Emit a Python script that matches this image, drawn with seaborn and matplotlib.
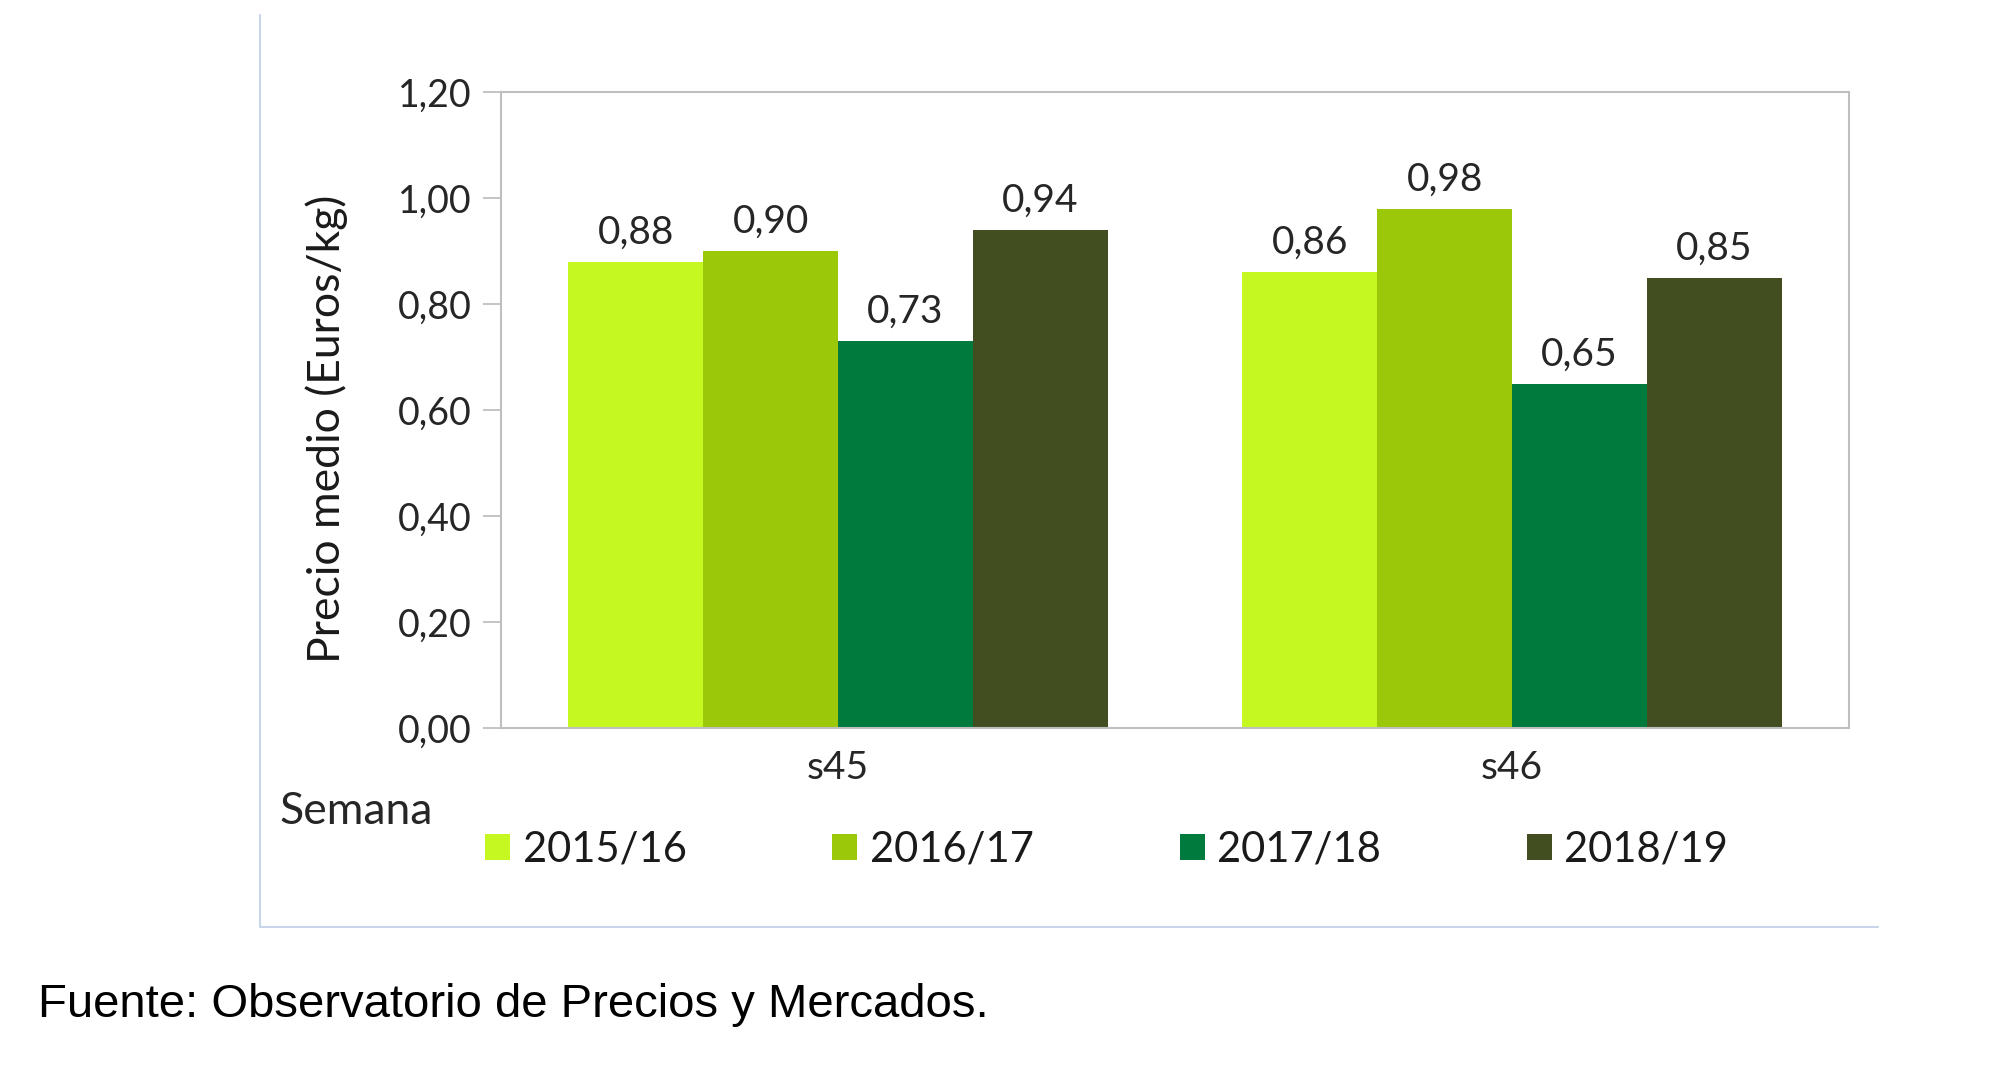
import pandas as pd
import matplotlib
matplotlib.use("Agg")
import matplotlib.pyplot as plt
from matplotlib.lines import Line2D
from matplotlib.ticker import FuncFormatter
import seaborn as sns

# Data
semanas = ["s45", "s46"]
campanas = ["2015/16", "2016/17", "2017/18", "2018/19"]
precio_2015_16 = [0.88, 0.86]
precio_2016_17 = [0.90, 0.98]
precio_2017_18 = [0.73, 0.65]
precio_2018_19 = [0.94, 0.85]
colores = ["#C4F820", "#9BC808", "#007A3D", "#424E20"]

rows = []
for camp, vals in zip(campanas, [precio_2015_16, precio_2016_17, precio_2017_18, precio_2018_19]):
    for sem, v in zip(semanas, vals):
        rows.append({"Semana": sem, "Campaña": camp, "Precio": v})
df = pd.DataFrame(rows)

sns.set_style("white")
plt.rcParams["font.family"] = ["Lato", "DejaVu Sans"]

fig = plt.figure(figsize=(19.99, 10.89), dpi=100)
ax = fig.add_axes([0.2506, 0.3315, 0.6744, 0.584])

sns.barplot(data=df, x="Semana", y="Precio", hue="Campaña", order=semanas,
            hue_order=campanas, palette=colores, width=0.8, saturation=1,
            errorbar=None, linewidth=0, ax=ax)

def coma(v, pos=None):
    return f"{v:.2f}".replace(".", ",")

for cont in ax.containers:
    ax.bar_label(cont, labels=[coma(b.get_height()) for b in cont],
                 padding=8, fontsize=28, color="#262626")

ax.set_ylim(0, 1.2)
ax.set_yticks([0, 0.2, 0.4, 0.6, 0.8, 1.0, 1.2])
ax.yaxis.set_major_formatter(FuncFormatter(coma))
ax.tick_params(axis="y", left=True, length=13, width=1.3, color="#BFBFBF",
               labelsize=27, labelcolor="#262626", pad=8)
ax.tick_params(axis="x", bottom=False, labelsize=28, labelcolor="#262626", pad=12)
for s in ax.spines.values():
    s.set_color("#BFBFBF")
    s.set_linewidth(1.5)
ax.set_xlabel("")
ax.set_ylabel("Precio medio (Euros/kg)", fontsize=32, color="#1a1a1a")
ax.yaxis.set_label_coords(-0.1135, 0.471)

handles, labels = ax.get_legend_handles_labels()
ax.get_legend().remove()
fig.legend(handles, labels, loc="center left", bbox_to_anchor=(0.224, 0.22),
           ncol=4, frameon=False, fontsize=30, handlelength=0.6, handleheight=0.6,
           handletextpad=0.3, columnspacing=3.5, labelcolor="#1a1a1a")

fig.text(279 / 1999, 1 - 811 / 1089, "Semana", fontsize=32, color="#262626",
         va="center", ha="left")

# outer chart frame
fig.add_artist(Line2D([260 / 1999, 260 / 1999], [1 - 15 / 1089, 1 - 927 / 1089],
                      color="#C9D5E8", lw=1.5))
fig.add_artist(Line2D([260 / 1999, 1878 / 1999], [1 - 927 / 1089, 1 - 927 / 1089],
                      color="#C9D5E8", lw=1.5))

fig.text(38 / 1999, 1 - 1005 / 1089, "Fuente: Observatorio de Precios y Mercados.",
         fontsize=34, family="Liberation Sans", color="black", va="center", ha="left")

fig.savefig("out.png", dpi=100)
